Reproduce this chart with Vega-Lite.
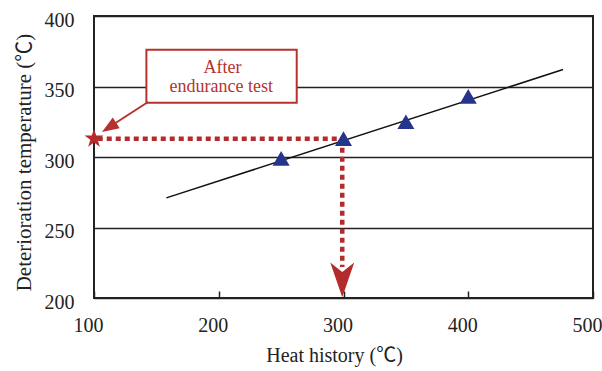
{
  "$schema": "https://vega.github.io/schema/vega-lite/v6.json",
  "width": 499,
  "height": 282,
  "autosize": {"type": "none"},
  "padding": {"left": 94, "top": 16, "right": 9, "bottom": 73},
  "background": "white",
  "config": {
    "view": {"stroke": "#222", "strokeWidth": 2},
    "font": "Liberation Serif, Noto Sans CJK JP"
  },
  "datasets": {
    "trend": [{"x": 158, "y": 271}, {"x": 476, "y": 362}],
    "points": [
      {"x": 250, "y": 299},
      {"x": 300, "y": 313},
      {"x": 350, "y": 325},
      {"x": 400, "y": 343}
    ],
    "hline": [{"x": 103, "x2": 299, "y": 313}],
    "vline": [{"x": 299, "y": 313, "y2": 222}],
    "star": [{"x": 100, "y": 313}],
    "box": [{"x": 142, "x2": 262.5, "y": 376, "y2": 338.5}],
    "label": [
      {"x": 203, "y": 363, "text": "After"},
      {"x": 202, "y": 349.8, "text": "endurance test"}
    ],
    "pointer": [{"x": 143.3, "y": 339, "x2": 111.7, "y2": 320.9}],
    "pointerHead": [{"x": 106.4, "y": 317.7}],
    "downHead": [{"x": 299, "y": 200.5}]
  },
  "encoding": {
    "x": {
      "field": "x",
      "type": "quantitative",
      "scale": {"domain": [100, 500], "nice": false, "zero": false},
      "axis": {
        "title": "Heat history (℃)",
        "titleFontSize": 20,
        "titleFontWeight": "normal",
        "titleColor": "#222",
        "titlePadding": 10,
        "titleX": 240,
        "values": [100, 200, 300, 400, 500],
        "labelFontSize": 20,
        "labelColor": "#222",
        "labelPadding": 24,
        "labelOffset": -6,
        "labelFlush": false,
        "grid": false,
        "domain": false,
        "ticks": true,
        "tickSize": -7,
        "tickWidth": 1.5,
        "tickColor": "#222"
      }
    },
    "y": {
      "field": "y",
      "type": "quantitative",
      "scale": {"domain": [200, 400], "nice": false, "zero": false},
      "axis": {
        "title": "Deterioration temperature (℃)",
        "titleFontSize": 21,
        "titleFontWeight": "normal",
        "titleColor": "#222",
        "titlePadding": 10,
        "titleY": 146,
        "values": [200, 250, 300, 350, 400],
        "labelFontSize": 20,
        "labelColor": "#222",
        "labelPadding": 20,
        "labelOffset": 4,
        "labelFlush": false,
        "grid": true,
        "gridColor": "#222",
        "gridWidth": 1.5,
        "gridOpacity": 1,
        "domain": false,
        "ticks": false
      }
    }
  },
  "layer": [
    {
      "data": {"name": "trend"},
      "mark": {"type": "line", "color": "#111", "strokeWidth": 1.5}
    },
    {
      "data": {"name": "hline"},
      "mark": {"type": "rule", "color": "#b52a2a", "strokeWidth": 4.5, "strokeDash": [5, 4], "strokeCap": "butt"},
      "encoding": {"x2": {"field": "x2"}}
    },
    {
      "data": {"name": "vline"},
      "mark": {"type": "rule", "color": "#b52a2a", "strokeWidth": 4.5, "strokeDash": [5, 4], "strokeCap": "butt"},
      "encoding": {"y2": {"field": "y2"}}
    },
    {
      "data": {"name": "points"},
      "mark": {"type": "point", "shape": "triangle-up", "filled": true, "color": "#25348c", "opacity": 1, "size": 289}
    },
    {
      "data": {"name": "star"},
      "mark": {"type": "point", "shape": "M0,-1 L0.225,-0.309 L0.951,-0.309 L0.363,0.118 L0.588,0.809 L0,0.382 L-0.588,0.809 L-0.363,0.118 L-0.951,-0.309 L-0.225,-0.309 Z", "filled": true, "color": "#b52a2a", "opacity": 1, "size": 400, "clip": false}
    },
    {
      "data": {"name": "box"},
      "mark": {"type": "rect", "fill": "white", "stroke": "#b5332e", "strokeWidth": 2},
      "encoding": {"x2": {"field": "x2"}, "y2": {"field": "y2"}}
    },
    {
      "data": {"name": "label"},
      "mark": {"type": "text", "fontSize": 18, "color": "#b5332e", "align": "center", "baseline": "middle"},
      "encoding": {"text": {"field": "text"}}
    },
    {
      "data": {"name": "pointer"},
      "mark": {"type": "rule", "color": "#b5332e", "strokeWidth": 2},
      "encoding": {"x2": {"field": "x2"}, "y2": {"field": "y2"}}
    },
    {
      "data": {"name": "pointerHead"},
      "mark": {"type": "point", "shape": "M0,0 L-0.75,2 L0.75,2 Z", "filled": true, "color": "#b5332e", "opacity": 1, "size": 289, "angle": 237}
    },
    {
      "data": {"name": "downHead"},
      "mark": {"type": "point", "shape": "M0,0 L-1,-2.9 L0,-2.1 L1,-2.9 Z", "filled": true, "color": "#b52a2a", "opacity": 1, "size": 576}
    }
  ]
}
